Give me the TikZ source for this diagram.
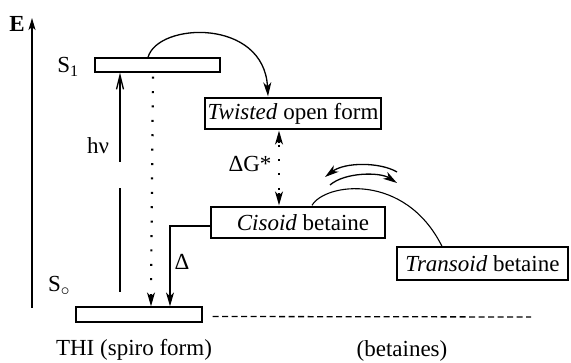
\documentclass[tikz,border=0pt]{standalone}
\usepackage{fontspec}
\setmainfont{Liberation Serif}
\usetikzlibrary{arrows.meta,calc}
\begin{document}
\begin{tikzpicture}[x=1pt,y=-1pt,
  every node/.style={font=\fontsize{23}{25}\selectfont},
  lvl/.style={draw,line width=1.3pt,inner sep=0pt},
  state/.style={draw,line width=1.3pt,inner sep=0pt,anchor=center},
  lbl/.style={inner sep=0pt},
  conn/.style={line width=1.3pt},
  tip/.style={-{Stealth[length=14pt,width=8pt,inset=4pt]}},
  dots/.style={line width=2.2pt,dash pattern=on 2pt off 12.4pt},
]
\useasboundingbox (0,0) rectangle (571,363);
% levels
\node[lvl,minimum width=125pt,minimum height=14pt] (s1) at (157.5,65) {};
\node[lvl,minimum width=126pt,minimum height=15pt] (s0) at (139,314.5) {};
% states
\node[state,minimum width=176pt,minimum height=31pt] (tw) at (293,113.5) {\textit{Twisted} open form};
\node[state,minimum width=174pt,minimum height=31pt] (cis) at (298,222.5) {\hspace*{10pt}\textit{Cisoid} betaine};
\node[state,minimum width=171pt,minimum height=33pt] (tr) at (482.5,263.5) {\textit{Transoid} betaine};
% labels
\node[lbl] (E) at (17,24) {\bfseries E};
\node[lbl] (s1l) at (68,67) {S\textsubscript{1}};
\node[lbl] (s0l) at (59,286) {S$_\circ$};
\node[lbl] (hnu) at (98,146) {hν};
\node[lbl] (dl) at (182,262) {Δ};
\node[lbl] (dg) at (250,164) {ΔG*};
\node[lbl] (thi) at (134,350) {THI (spiro form)};
\node[lbl] (bet) at (402,351) {(betaines)};
% coordinates
\coordinate (axb) at (32,308);
\coordinate (axt) at (32,18);
\coordinate (hb) at (120,292);
\coordinate (hm1) at (120,188);
\coordinate (hm2) at (120,162);
\coordinate (dashr) at (531,317);
\coordinate (ua) at (397,172);
\coordinate (ub) at (325,177);
\coordinate (la) at (330,185);
\coordinate (lb) at (397,183);
% energy axis
\draw[conn,-{Stealth[length=12pt,width=7pt,inset=3pt]}] (axb) -- (axt);
% h nu excitation
\draw[conn] (hb) -- (hm1);
\draw[conn,-{Straight Barb[length=14pt,width=7pt]}] (hm2) -- (hm2 |- s1.south);
% dotted decay S1 -> S0
\draw[dots] ($(s1.south)+(-4.5,4)$) -- ($(s0.north)+(12,-14)$);
\draw[conn,tip] ($(s0.north)+(12,-12)$) -- ($(s0.north)+(12,0)$);
% S1 -> twisted
\draw[conn,tip] ($(s1.north)+(-9.5,0)$) .. controls (158,22) and (264,18) .. ($(tw.north)+(-25,-1)$);
% Delta G*
\draw[dots] ($(tw.south)+(-14,15)$) -- ($(cis.north)+(-19,-14)$);
\draw[conn,tip] ($(tw.south)+(-14,13)$) -- ($(tw.south)+(-14,1)$);
\draw[conn,tip] ($(cis.north)+(-19,-13)$) -- ($(cis.north)+(-19,-1)$);
% Delta: cisoid -> S0
\draw[line width=1.1pt,tip] ([yshift=-3.5pt]cis.west) -| ($(s0.north)+(31,0)$);
% cisoid -- transoid
\draw[line width=1.1pt] ($(cis.north)+(14,-1)$) .. controls (325,183) and (405,172) .. ($(tr.north)+(-40.5,0)$);
% equilibrium arrows
\draw[conn,tip] (ua) .. controls (380,162) and (345,162) .. (ub);
\draw[conn,tip] (la) .. controls (345,172) and (380,172) .. (lb);
% dashed baseline
\draw[line width=1.3pt,dash pattern=on 6pt off 3.5pt] ($(s0.east)+(10,2)$) -- (dashr);
\end{tikzpicture}
\end{document}
